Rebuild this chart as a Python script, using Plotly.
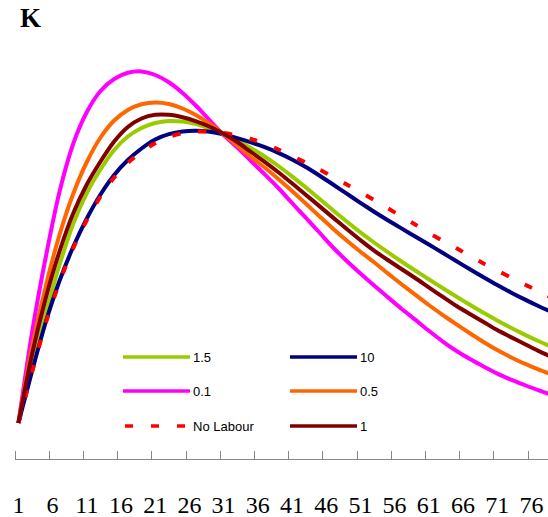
import plotly.graph_objects as go

# Period index (every other period) and capital stock K for each labour-elasticity scenario
periods = list(range(1, 81, 2))

k_1_5 = [0.37, 0.97, 1.47, 1.95, 2.36, 2.67, 2.905, 3.10, 3.235, 3.32,
         3.37, 3.39, 3.385, 3.36, 3.315, 3.26, 3.195, 3.12, 3.035, 2.94,
         2.837, 2.727, 2.613, 2.498, 2.385, 2.277, 2.175, 2.078, 1.985, 1.895,
         1.807, 1.72, 1.635, 1.552, 1.472, 1.395, 1.322, 1.254, 1.19, 1.13]
k_10 = [0.37, 0.89, 1.38, 1.79, 2.13, 2.415, 2.655, 2.85, 3.00, 3.115,
        3.205, 3.258, 3.285, 3.292, 3.282, 3.255, 3.218, 3.176, 3.128, 3.072,
        3.006, 2.93, 2.845, 2.755, 2.663, 2.572, 2.483, 2.398, 2.316, 2.236,
        2.155, 2.072, 1.99, 1.908, 1.828, 1.75, 1.676, 1.606, 1.54, 1.478]
k_0_1 = [0.37, 1.28, 2.03, 2.68, 3.16, 3.48, 3.69, 3.81, 3.872, 3.886,
         3.85, 3.777, 3.67, 3.54, 3.395, 3.25, 3.125, 2.99, 2.857, 2.72,
         2.57, 2.423, 2.275, 2.125, 1.99, 1.865, 1.745, 1.628, 1.513, 1.404,
         1.292, 1.187, 1.092, 1.01, 0.935, 0.864, 0.804, 0.75, 0.698, 0.65]
k_0_5 = [0.37, 1.13, 1.74, 2.25, 2.66, 2.98, 3.225, 3.395, 3.50, 3.557,
         3.575, 3.56, 3.515, 3.447, 3.36, 3.258, 3.145, 3.03, 2.925, 2.81,
         2.69, 2.565, 2.438, 2.313, 2.195, 2.083, 1.977, 1.866, 1.758, 1.654,
         1.55, 1.452, 1.358, 1.267, 1.18, 1.099, 1.028, 0.963, 0.907, 0.855]
k_no_labour = [0.37, 0.88, 1.37, 1.775, 2.115, 2.40, 2.635, 2.825, 2.97, 3.083,
               3.167, 3.23, 3.268, 3.284, 3.284, 3.27, 3.245, 3.21, 3.162, 3.105,
               3.04, 2.975, 2.905, 2.83, 2.755, 2.678, 2.60, 2.518, 2.435, 2.355,
               2.272, 2.193, 2.12, 2.04, 1.965, 1.895, 1.825, 1.755, 1.69, 1.623]
k_1 = [0.37, 1.06, 1.62, 2.085, 2.465, 2.755, 2.985, 3.185, 3.33, 3.415,
       3.452, 3.452, 3.427, 3.387, 3.332, 3.263, 3.18, 3.08, 2.982, 2.878,
       2.767, 2.653, 2.539, 2.424, 2.31, 2.199, 2.094, 2.00, 1.91, 1.82,
       1.726, 1.633, 1.542, 1.46, 1.38, 1.299, 1.229, 1.16, 1.091, 1.03]

tick_labels = ["1", "6", "11", "16", "21", "26", "31", "36", "41", "46", "51",
               "56", "61", "66", "71", "76"]

# (name, values, colour, dash)
series = [
    ("1.5", k_1_5, "#99CC00", "solid"),
    ("10", k_10, "#000080", "solid"),
    ("0.1", k_0_1, "#FF00FF", "solid"),
    ("0.5", k_0_5, "#FF6600", "solid"),
    ("No Labour", k_no_labour, "#FF0000", "8px,18px"),
    ("1", k_1, "#800000", "solid"),
]

W, H = 548, 517
M_L, M_R, M_T, M_B = 15, 0, 59, 58
PLOT_W = W - M_L - M_R
PLOT_H = H - M_T - M_B


def px_x(px):
    return (px - M_L) / PLOT_W


def px_y(py):
    return (H - M_B - py) / PLOT_H


fig = go.Figure()
for name, vals, colour, dash in series:
    fig.add_trace(go.Scatter(
        x=periods, y=vals, name=name, mode="lines",
        line=dict(color=colour, width=4, dash=dash, shape="spline", smoothing=0.8),
        showlegend=False,
    ))

# Two-column key: samples drawn as short strokes with their labels
legend_rows = [(357, ["1.5", "10"]), (391, ["0.1", "0.5"]), (426, ["No Labour", "1"])]
col_x = [(123, 190), (290, 357)]
style = {name: (colour, dash) for name, _, colour, dash in series}
shapes, annotations = [], []
for row_y, names in legend_rows:
    for (x0, x1), name in zip(col_x, names):
        colour, dash = style[name]
        shapes.append(dict(
            type="line", xref="paper", yref="paper",
            x0=px_x(x0 + (2 if dash != "solid" else 0)), x1=px_x(x1),
            y0=px_y(row_y), y1=px_y(row_y),
            line=dict(color=colour, width=3.5,
                      dash="8px,18px" if dash != "solid" else "solid"),
        ))
        annotations.append(dict(
            text=name, xref="paper", yref="paper", x=px_x(x1 + 1), y=px_y(row_y),
            xanchor="left", yanchor="middle", showarrow=False,
            font=dict(family="Liberation Sans, Arial", size=13, color="#000000"),
        ))

fig.update_layout(
    width=W, height=H,
    margin=dict(l=M_L, r=M_R, t=M_T, b=M_B, autoexpand=False),
    paper_bgcolor="white", plot_bgcolor="white",
    title=dict(text="<b>K</b>", x=20 / W, xanchor="left", y=1 - 8 / H, yanchor="top",
               font=dict(family="Liberation Serif, Times New Roman", size=27, color="black")),
    xaxis=dict(
        range=[0.5, 0.5 + PLOT_W / 6.84],
        automargin=False,
        showgrid=False, zeroline=False,
        showline=True, linecolor="#868686", linewidth=1,
        tickmode="array", tickvals=[int(t) for t in tick_labels], ticktext=tick_labels,
        ticks="", ticklabelstandoff=24,
        tickfont=dict(family="Liberation Serif, Times New Roman", size=24, color="black"),
        minor=dict(tickmode="array", tickvals=[int(t) - 0.5 for t in tick_labels],
                   ticks="inside", ticklen=8, tickwidth=1, tickcolor="#868686",
                   showgrid=False),
    ),
    yaxis=dict(range=[0.01, 4.01], visible=False),
    shapes=shapes,
    annotations=annotations,
)

fig.write_html("out.html")
